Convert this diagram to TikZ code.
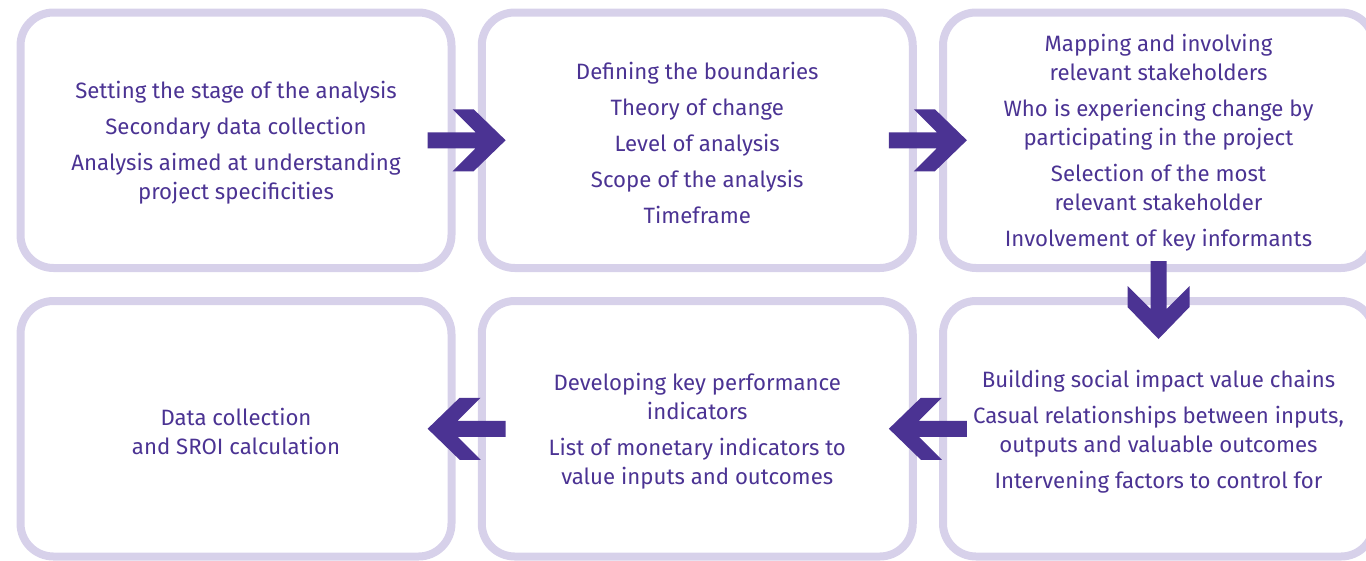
\documentclass[tikz,border=0pt]{standalone}
\usepackage{fontspec}
\setmainfont{Fira Sans}
\usetikzlibrary{calc}
\definecolor{frame}{HTML}{D7D1EA}
\definecolor{ink}{HTML}{4B3393}
\tikzset{
  stage/.style={draw=frame, line width=8pt, rounded corners=33pt,
    minimum width=431pt, minimum height=255.5pt, inner sep=0pt},
  note/.style={text=ink, align=center, inner sep=0pt, yshift=-2.5pt,
    font=\fontsize{22.2}{29}\selectfont},
  pics/blockarrow/.style={code={
    \fill[ink] (-39,-8) -- (9,-8) -- (-14,-31) -- (7,-31) -- (39,0)
      -- (7,31) -- (-14,31) -- (9,8) -- (-39,8) -- cycle;}}
}
\begin{document}
\begin{tikzpicture}[x=1pt,y=1pt]
\useasboundingbox (0,0) rectangle (1366,-560);
\clip (0,0) rectangle (1366,-560);
% stage frames
\node[stage] (b1) at (236,-140.25) {};
\node[stage] (b2) at (697.25,-140.25) {};
\node[stage] (b3) at (1158.5,-140.25) {};
\node[stage] (b4) at (1158.5,-428.75) {};
\node[stage] (b5) at (697.25,-428.75) {};
\node[stage] (b6) at (236,-428.75) {};
% stage contents
\node[note] (t1) at (b1) {Setting the stage of the analysis\\[7pt]
  Secondary data collection\\[7pt]
  Analysis aimed at understanding\\project specificities};
\node[note] (t2) at (b2) {Defining the boundaries\\[7pt]
  Theory of change\\[7pt]
  Level of analysis\\[7pt]
  Scope of the analysis\\[7pt]
  Timeframe};
\node[note] (t3) at (b3) {Mapping and involving\\relevant stakeholders\\[7pt]
  Who is experiencing change by\\participating in the project\\[7pt]
  Selection of the most\\relevant stakeholder\\[7pt]
  Involvement of key informants};
\node[note] (t4) at (b4) {Building social impact value chains\\[7pt]
  Casual relationships between inputs,\\outputs and valuable outcomes\\[7pt]
  Intervening factors to control for};
\node[note] (t5) at (b5) {Developing key performance\\indicators\\[7pt]
  List of monetary indicators to\\value inputs and outcomes};
\node[note] (t6) at (b6) {Data collection\\and SROI calculation};
% flow arrows
\pic at ($(b1.east)!0.5!(b2.west)$) {blockarrow};
\pic at ($(b2.east)!0.5!(b3.west)$) {blockarrow};
\pic[rotate=-90] at ($(b3.south)!0.5!(b4.north)+(0,-15.5)$) {blockarrow};
\pic[rotate=180] at ($(b4.west)!0.5!(b5.east)$) {blockarrow};
\pic[rotate=180] at ($(b5.west)!0.5!(b6.east)$) {blockarrow};
\end{tikzpicture}
\end{document}
